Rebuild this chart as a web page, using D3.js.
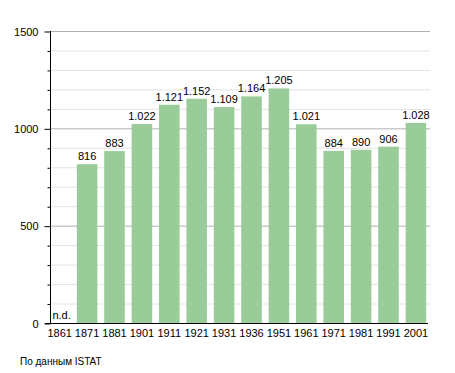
<!DOCTYPE html>
<html>
<head>
<meta charset="utf-8">
<script src="https://cdn.jsdelivr.net/npm/d3@7"></script>
<style>
  body { margin: 0; background: #fff; }
  svg { font-family: "Liberation Sans", Arial, sans-serif; }
</style>
</head>
<body>
<div id="chart"></div>
<script>
// census years and population (null = no data)
var years = ['1861', '1871', '1881', '1901', '1911', '1921', '1931', '1936', '1951', '1961', '1971', '1981', '1991', '2001'];
var population = [null, 816, 883, 1022, 1121, 1152, 1109, 1164, 1205, 1021, 884, 890, 906, 1028];
var yTicks = [0, 500, 1000, 1500];
var sourceNote = 'По данным  ISTAT';

var width = 455, height = 373;
var x0 = 50, yTop = 31, yBottom = 323;

var svg = d3.select('#chart')
	.append('svg')
	.attr('width', width)
	.attr('height', height);

var xScale = d3.scaleBand()
	.domain(years)
	.range([46, 429.6])
	.paddingInner(0.25)
	.paddingOuter(0.125);

var yScale = d3.scaleLinear()
	.domain([0, 1500])
	.range([yBottom, yTop]);

// grid lines every 100
var minor = d3.range(100, 1501, 100);
svg.append('g')
	.selectAll('line')
	.data(minor)
	.enter()
	.append('line')
	.attr('x1', x0)
	.attr('x2', 430)
	.attr('y1', d => yScale(d) + 0.5)
	.attr('y2', d => yScale(d) + 0.5)
	.attr('stroke', d => d % 500 === 0 ? '#b0b0b0' : '#e4e4e4')
	.attr('stroke-width', 1);

// bars
var rows = years.map((y, i) => ({ year: y, value: population[i] }));
svg.append('g')
	.selectAll('rect')
	.data(rows.filter(d => d.value !== null))
	.enter()
	.append('rect')
	.attr('x', d => xScale(d.year))
	.attr('width', xScale.bandwidth())
	.attr('y', d => yScale(d.value))
	.attr('height', d => yBottom - yScale(d.value))
	.attr('fill', '#99cc99');

// value labels
var fmt = d3.formatLocale({ decimal: ',', thousands: '.', grouping: [3], currency: ['', ''] }).format(',d');
svg.append('g')
	.selectAll('text')
	.data(rows)
	.enter()
	.append('text')
	.attr('x', d => d.value === null ? xScale(d.year) + 3 : xScale(d.year) + xScale.bandwidth() / 2)
	.attr('y', d => d.value === null ? yBottom - 4 : yScale(d.value) - 4)
	.attr('text-anchor', d => d.value === null ? 'start' : 'middle')
	.attr('font-size', '11px')
	.attr('fill', '#000')
	.text(d => d.value === null ? 'n.d.' : fmt(d.value));

// y axis
var yAxis = d3.axisLeft(yScale)
	.tickValues(minor.concat([0]))
	.tickSize(3)
	.tickFormat(d => yTicks.indexOf(d) >= 0 ? d : '');
var gy = svg.append('g')
	.attr('transform', 'translate(' + (x0 + 0.5) + ',0.5)')
	.call(yAxis);
gy.select('.domain').attr('d', 'M0,' + (yTop - 0.5) + 'V' + (yBottom - 0.5)).attr('stroke', '#000');
gy.selectAll('.tick line')
	.attr('x2', d => d % 500 === 0 ? -6 : -3)
	.attr('stroke', '#000');
gy.selectAll('.tick text')
	.attr('x', -12)
	.attr('font-size', '11px')
	.attr('font-family', '"Liberation Sans", Arial, sans-serif')
	.attr('fill', '#000');

// x axis
var xAxis = d3.axisBottom(xScale).tickSize(0).tickPadding(6);
var gx = svg.append('g')
	.attr('transform', 'translate(0,' + (yBottom + 0.5) + ')')
	.call(xAxis);
gx.select('.domain').attr('d', 'M45,0H428').attr('stroke', '#000');
gx.selectAll('.tick text')
	.attr('font-size', '11px')
	.attr('font-family', '"Liberation Sans", Arial, sans-serif')
	.attr('fill', '#000');

// source note
svg.append('text')
	.attr('x', 20)
	.attr('y', 365)
	.attr('font-size', '10px')
	.attr('fill', '#000')
	.text(sourceNote);
</script>
</body>
</html>
